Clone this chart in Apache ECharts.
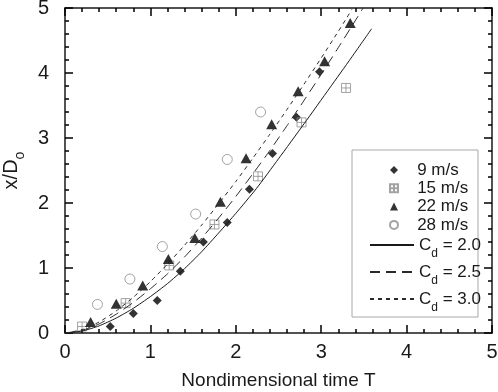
<!DOCTYPE html>
<html>
<head>
<meta charset="utf-8">
<script src="https://cdn.jsdelivr.net/npm/echarts@6/dist/echarts.min.js"></script>
<style>
  html, body { margin: 0; padding: 0; background: #fff; }
  #chart { width: 498px; height: 392px; }
</style>
</head>
<body>
<div id="chart"></div>
<script>
// measured points (T, x/Do)
const speedNames = ["9 m/s", "15 m/s", "22 m/s", "28 m/s"];
const data9 = [[0.53, 0.10], [0.80, 0.30], [1.08, 0.50], [1.35, 0.95], [1.62, 1.40], [1.90, 1.70], [2.16, 2.21], [2.43, 2.76], [2.71, 3.32], [2.98, 4.02]];
const data15 = [[0.20, 0.10], [0.71, 0.46], [1.22, 1.04], [1.75, 1.67], [2.26, 2.41], [2.77, 3.24], [3.29, 3.77]];
const data22 = [[0.30, 0.17], [0.60, 0.45], [0.91, 0.73], [1.21, 1.14], [1.52, 1.46], [1.82, 2.02], [2.12, 2.69], [2.42, 3.21], [2.73, 3.72], [3.04, 4.18], [3.34, 4.77]];
const data28 = [[0.38, 0.44], [0.76, 0.83], [1.14, 1.33], [1.53, 1.83], [1.90, 2.67], [2.29, 3.40]];

// model curves
const cdNames = ["Cd = 2.0", "Cd = 2.5", "Cd = 3.0"];
const curve20 = [[0, 0], [0.2, 0.03], [0.4, 0.11], [0.6, 0.23], [0.8, 0.38], [1.0, 0.56], [1.2, 0.76], [1.4, 0.99], [1.6, 1.25], [1.8, 1.54], [2.0, 1.84], [2.24, 2.22], [2.5, 2.68], [2.8, 3.22], [3.1, 3.77], [3.35, 4.23], [3.59, 4.68]];
const curve25 = [[0, 0], [0.2, 0.04], [0.4, 0.14], [0.6, 0.29], [0.8, 0.47], [1.0, 0.68], [1.2, 0.91], [1.4, 1.17], [1.6, 1.46], [1.8, 1.77], [2.0, 2.10], [2.2, 2.45], [2.4, 2.81], [2.6, 3.19], [2.8, 3.58], [3.0, 3.98], [3.2, 4.39], [3.43, 4.87], [3.49, 5.0]];
const curve30 = [[0, 0], [0.2, 0.05], [0.4, 0.17], [0.6, 0.34], [0.8, 0.55], [1.0, 0.79], [1.2, 1.06], [1.4, 1.35], [1.6, 1.66], [1.8, 1.99], [2.0, 2.33], [2.2, 2.69], [2.4, 3.06], [2.6, 3.44], [2.8, 3.83], [3.0, 4.23], [3.2, 4.64], [3.3, 4.85], [3.36, 4.98]];

const FONT = "Liberation Sans, Arial, sans-serif";
const INK = "#1a1a1a";
const boxSquare = "path://M0,0H10V10H0ZM5,0V10M0,5H10";

const chart = echarts.init(document.getElementById("chart"));

function axisBase(showLabel) {
  return {
    type: "value",
    min: 0,
    max: 5,
    interval: 1,
    axisLine: { show: true, onZero: false, lineStyle: { color: INK, width: 1.5 } },
    axisTick: { show: true, inside: true, length: 8, lineStyle: { color: "#000", width: 1.5 } },
    minorTick: { show: true, splitNumber: 5, length: 4, lineStyle: { color: "#000", width: 1.5 } },
    splitLine: { show: false },
    axisLabel: { show: showLabel, color: INK, fontSize: 20, fontFamily: FONT }
  };
}

const xBottom = Object.assign(axisBase(true), {
  position: "bottom",
  name: "Nondimensional time T",
  nameLocation: "middle",
  nameGap: 38,
  nameTextStyle: { color: INK, fontSize: 19, fontFamily: FONT }
});
xBottom.axisLabel.margin = 9;

const xTop = Object.assign(axisBase(false), { position: "top" });

const yLeft = Object.assign(axisBase(true), {
  position: "left",
  name: "x/D{o|o}",
  nameLocation: "middle",
  nameGap: 35,
  nameTextStyle: {
    color: INK, fontSize: 20, fontFamily: FONT, lineHeight: 30,
    rich: {
      o: { fontSize: 14, fontFamily: FONT, color: INK, verticalAlign: "bottom", lineHeight: 14 }
    }
  }
});
yLeft.axisLabel.margin = 16;

const yRight = Object.assign(axisBase(false), { position: "right" });

chart.setOption({
  animation: false,
  backgroundColor: "#fff",
  grid: { left: 65, right: 6, top: 8, bottom: 59, outerBoundsMode: "none" },
  xAxis: [xBottom, xTop],
  yAxis: [yLeft, yRight],
  graphic: [{
    type: "rect",
    z: 3,
    shape: { x: 352, y: 150, width: 126, height: 167 },
    style: { fill: "#fff", stroke: "#a8a8a8", lineWidth: 1 }
  }],
  legend: [
    {
      data: speedNames,
      orient: "vertical",
      left: 384,
      top: 156,
      itemWidth: 8,
      itemHeight: 8,
      itemGap: 0.3,
      z: 5,
      formatter: function (name) {
        return "\u00a0\u00a0\u00a0" + name;
      },
      textStyle: { fontSize: 17, fontFamily: FONT, color: INK, lineHeight: 18 }
    },
    {
      data: cdNames,
      orient: "vertical",
      left: 364,
      top: 225,
      itemWidth: 44,
      itemHeight: 10,
      itemGap: -3,
      icon: "inherit",
      itemStyle: { opacity: 0 },
      z: 5,
      formatter: function (name) {
        return "C{d|d} = " + name.split("= ")[1];
      },
      textStyle: {
        fontSize: 17, fontFamily: FONT, color: INK, lineHeight: 30,
        rich: {
          d: { fontSize: 12, fontFamily: FONT, color: INK, verticalAlign: "bottom", lineHeight: 12 }
        }
      }
    }
  ],
  series: [
    {
      name: "9 m/s", type: "scatter", data: data9,
      symbol: "diamond", symbolSize: 9,
      itemStyle: { color: "#000" }
    },
    {
      name: "15 m/s", type: "scatter", data: data15,
      symbol: boxSquare, symbolSize: 9,
      itemStyle: { color: "rgba(0,0,0,0)", borderColor: "#8c8c8c", borderWidth: 1 }
    },
    {
      name: "22 m/s", type: "scatter", data: data22,
      symbol: "triangle", symbolSize: [11, 10],
      itemStyle: { color: "#000" }
    },
    {
      name: "28 m/s", type: "scatter", data: data28,
      symbol: "circle", symbolSize: 10,
      itemStyle: { color: "rgba(0,0,0,0)", borderColor: "#8c8c8c", borderWidth: 1 }
    },
    {
      name: "Cd = 2.0", type: "line", data: curve20, symbol: "none", smooth: 0.2,
      lineStyle: { color: INK, width: 1, type: "solid" },
      itemStyle: { color: INK }
    },
    {
      name: "Cd = 2.5", type: "line", data: curve25, symbol: "none", smooth: 0.2,
      lineStyle: { color: "#2a2a2a", width: 1, type: [10, 6] },
      itemStyle: { color: "#2a2a2a" }
    },
    {
      name: "Cd = 3.0", type: "line", data: curve30, symbol: "none", smooth: 0.2,
      lineStyle: { color: "#2a2a2a", width: 1, type: [4, 4] },
      itemStyle: { color: "#2a2a2a" }
    }
  ]
});
</script>
</body>
</html>
